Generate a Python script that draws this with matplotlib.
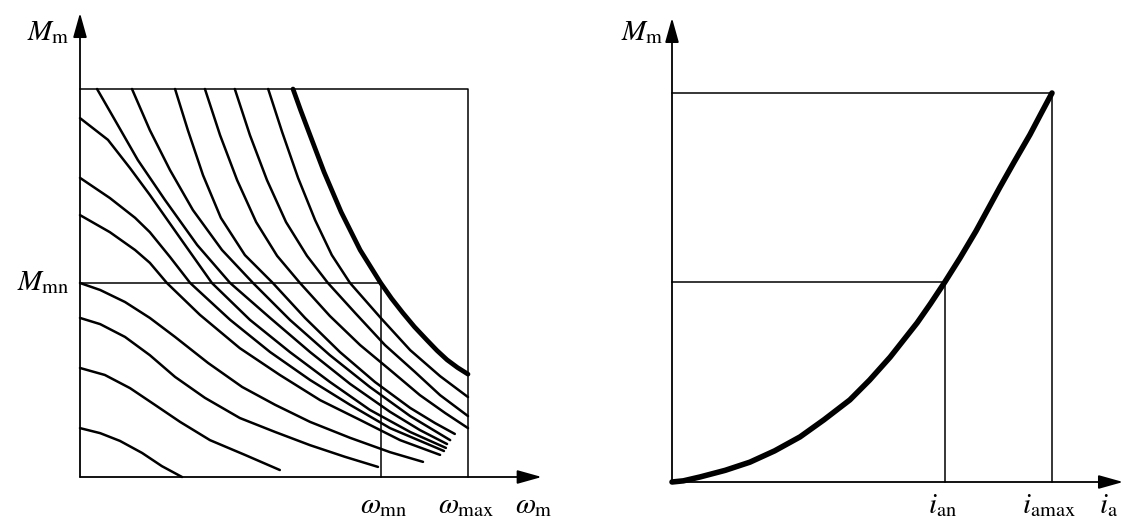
import matplotlib.pyplot as plt

plt.rcParams['mathtext.fontset'] = 'stix'
plt.rcParams['font.family'] = 'STIXGeneral'

# rated / limit values (per unit of the box)
w_mn, w_max = 0.775, 1.0
m_mn, m_max = 0.5, 1.0
i_an, i_amax = 0.718, 1.0
m_n = 0.514

# family of M(w) curves, left panel
# curves starting on the top edge (last one = limit curve, drawn thick)
w_t1 = [0.044, 0.090, 0.149, 0.219, 0.302, 0.387, 0.490, 0.593, 0.696, 0.799, 0.876, 0.946]
m_t1 = [1.0, 0.920, 0.817, 0.714, 0.598, 0.5, 0.41, 0.322, 0.240, 0.168, 0.121, 0.085]
w_t2 = [0.134, 0.180, 0.232, 0.291, 0.366, 0.446, 0.541, 0.644, 0.747, 0.851, 0.954]
m_t2 = [1.0, 0.894, 0.791, 0.688, 0.585, 0.5, 0.405, 0.314, 0.232, 0.157, 0.095]
w_t3 = [0.245, 0.278, 0.317, 0.363, 0.425, 0.497, 0.580, 0.670, 0.760, 0.851, 0.915, 0.966]
m_t3 = [1.0, 0.894, 0.778, 0.668, 0.572, 0.5, 0.41, 0.322, 0.245, 0.178, 0.139, 0.111]
w_t4 = [0.322, 0.361, 0.405, 0.454, 0.508, 0.567, 0.644, 0.722, 0.799, 0.876, 0.941, 1.0]
m_t4 = [1.0, 0.881, 0.765, 0.657, 0.570, 0.5, 0.415, 0.340, 0.276, 0.211, 0.165, 0.126]
w_t5 = [0.399, 0.438, 0.482, 0.531, 0.585, 0.639, 0.709, 0.786, 0.863, 0.928, 1.0]
m_t5 = [1.0, 0.881, 0.765, 0.657, 0.570, 0.5, 0.423, 0.340, 0.271, 0.211, 0.157]
w_t6 = [0.485, 0.521, 0.562, 0.606, 0.649, 0.696, 0.775, 0.851, 0.928, 1.0]
m_t6 = [1.0, 0.889, 0.771, 0.662, 0.572, 0.5, 0.41, 0.327, 0.26, 0.206]
w_lim = [0.549, 0.568, 0.588, 0.629, 0.673, 0.722, 0.775, 0.803, 0.832, 0.862, 0.894, 0.920, 0.946, 0.973, 1.0]
m_lim = [1.0, 0.947, 0.894, 0.786, 0.683, 0.585, 0.5, 0.460, 0.423, 0.387, 0.353, 0.326, 0.302, 0.282, 0.265]

# curves starting on the left edge
w_l1 = [0, 0.072, 0.129, 0.180, 0.258, 0.340, 0.438, 0.541, 0.644, 0.747, 0.851, 0.943]
m_l1 = [0.925, 0.869, 0.796, 0.727, 0.616, 0.5, 0.405, 0.322, 0.245, 0.173, 0.116, 0.075]
w_l2 = [0, 0.077, 0.142, 0.180, 0.232, 0.284, 0.387, 0.490, 0.593, 0.696, 0.799, 0.938]
m_l2 = [0.771, 0.719, 0.668, 0.631, 0.567, 0.5, 0.405, 0.322, 0.25, 0.186, 0.126, 0.067]
w_l3 = [0, 0.077, 0.142, 0.180, 0.224, 0.309, 0.412, 0.515, 0.619, 0.722, 0.825, 0.928]
m_l3 = [0.675, 0.631, 0.585, 0.552, 0.5, 0.418, 0.332, 0.263, 0.198, 0.147, 0.095, 0.057]
w_l4 = [0, 0.052, 0.116, 0.180, 0.245, 0.330, 0.418, 0.503, 0.593, 0.696, 0.799, 0.884]
m_l4 = [0.5, 0.482, 0.451, 0.410, 0.361, 0.294, 0.232, 0.186, 0.142, 0.101, 0.064, 0.039]
w_l5 = [0, 0.052, 0.116, 0.180, 0.245, 0.322, 0.412, 0.503, 0.593, 0.683, 0.768]
m_l5 = [0.410, 0.394, 0.361, 0.314, 0.258, 0.204, 0.152, 0.116, 0.082, 0.052, 0.026]
w_l6 = [0, 0.064, 0.129, 0.193, 0.258, 0.335, 0.425, 0.515]
m_l6 = [0.281, 0.263, 0.229, 0.186, 0.142, 0.095, 0.057, 0.018]
w_l7 = [0, 0.052, 0.103, 0.160, 0.211, 0.263]
m_l7 = [0.126, 0.113, 0.093, 0.062, 0.028, 0]

thin_w = [w_t1, w_t2, w_t3, w_t4, w_t5, w_t6, w_l1, w_l2, w_l3, w_l4, w_l5, w_l6, w_l7]
thin_m = [m_t1, m_t2, m_t3, m_t4, m_t5, m_t6, m_l1, m_l2, m_l3, m_l4, m_l5, m_l6, m_l7]

# M(i_a) curve, right panel
ia = [0, 0.03, 0.074, 0.14, 0.205, 0.27, 0.337, 0.40, 0.468, 0.52, 0.574, 0.645,
      0.68, 0.718, 0.758, 0.80, 0.863, 0.90, 0.942, 0.97, 1.0]
m_ia = [0, 0.003, 0.013, 0.030, 0.051, 0.080, 0.116, 0.160, 0.211, 0.262, 0.321, 0.409,
        0.458, 0.514, 0.576, 0.645, 0.758, 0.822, 0.893, 0.945, 1.0]

fig = plt.figure(figsize=(11.31, 5.22), dpi=100)
fig.patch.set_facecolor('white')

arrow = dict(arrowstyle='-|>,head_length=1.0,head_width=0.28', lw=1.3,
             color='k', shrinkA=0, shrinkB=0, mutation_scale=15)
fs = 21

# ---- left panel
ax = fig.add_axes([0, 0, 570/1131, 1])
ax.set_xlim(-80/388, 490/388)
ax.set_ylim(-45/388, 477/388)
ax.axis('off')

ax.annotate('', xy=(0, 1.196), xytext=(0, 0), arrowprops=arrow)
ax.annotate('', xy=(1.19, 0), xytext=(0, 0), arrowprops=arrow)
ax.plot([0, w_max, w_max], [m_max, m_max, 0], color='k', lw=1.1)
ax.plot([0, w_mn, w_mn], [m_mn, m_mn, 0], color='k', lw=1.1)

for xs, ys in zip(thin_w, thin_m):
    ax.plot(xs, ys, color='k', lw=1.8, solid_capstyle='round', solid_joinstyle='round')
ax.plot(w_lim, m_lim, color='k', lw=3.4, solid_capstyle='round', solid_joinstyle='round')

ax.text(-0.028, 1.144, r'$M_{\mathrm{m}}$', fontsize=fs, ha='right', va='center')
ax.text(-0.028, m_mn, r'$M_{\mathrm{mn}}$', fontsize=fs, ha='right', va='center')
ax.text(w_mn + 0.008, -0.077, r'$\omega_{\mathrm{mn}}$', fontsize=fs, ha='center', va='center')
ax.text(w_max - 0.005, -0.077, r'$\omega_{\mathrm{max}}$', fontsize=fs, ha='center', va='center')
ax.text(1.17, -0.077, r'$\omega_{\mathrm{m}}$', fontsize=fs, ha='center', va='center')

# ---- right panel
ax2 = fig.add_axes([600/1131, 0, 531/1131, 1])
ax2.set_xlim(-72/380, 459/380)
ax2.set_ylim(-40/389, 482/389)
ax2.axis('off')

ax2.annotate('', xy=(0, 1.193), xytext=(0, 0), arrowprops=arrow)
ax2.annotate('', xy=(1.187, 0), xytext=(0, 0), arrowprops=arrow)
ax2.plot([0, i_amax, i_amax], [1.0, 1.0, 0], color='k', lw=1.1)
ax2.plot([0, i_an, i_an], [m_n, m_n, 0], color='k', lw=1.1)
ax2.plot(ia, m_ia, color='k', lw=4.0, solid_capstyle='round', solid_joinstyle='round')

ax2.text(-0.022, 1.154, r'$M_{\mathrm{m}}$', fontsize=fs, ha='right', va='center')
ax2.text(i_an - 0.005, -0.062, r'$i_{\mathrm{an}}$', fontsize=fs, ha='center', va='center')
ax2.text(i_amax - 0.008, -0.062, r'$i_{\mathrm{amax}}$', fontsize=fs, ha='center', va='center')
ax2.text(1.15, -0.062, r'$i_{\mathrm{a}}$', fontsize=fs, ha='center', va='center')

fig.savefig('out.png', dpi=100)
